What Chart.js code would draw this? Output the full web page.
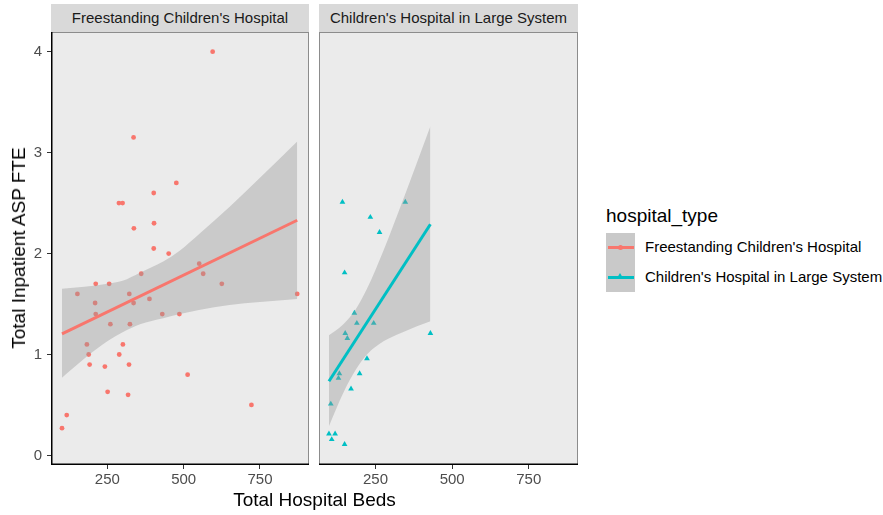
<!DOCTYPE html>
<html>
<head>
<meta charset="utf-8">
<script src="https://cdn.jsdelivr.net/npm/chart.js@4.4.1/dist/chart.umd.min.js"></script>
<style>
  body { margin: 0; background: #fff; font-family: 'Liberation Sans', Arial, sans-serif; }
  #wrap { position: relative; width: 883px; height: 515px; overflow: hidden; }
  canvas { position: absolute; }
  .strip { position: absolute; top: 4px; height: 28px; background: #d9d9d9; color: #1a1a1a;
           font-size: 15px; line-height: 28px; text-align: center; white-space: nowrap; }
  .title { position: absolute; color: #000; font-size: 19px; white-space: nowrap; line-height: 22px; }
  .lg-text { position: absolute; left: 645px; font-size: 15px; color: #000; white-space: nowrap; line-height: 18px; }
  .lg-line { position: absolute; left: 608px; width: 26px; height: 3px; }
</style>
</head>
<body>
<div id="wrap">
  <div class="strip" style="left:51px;width:258px;">Freestanding Children's Hospital</div>
  <div class="strip" style="left:319px;width:259px;">Children's Hospital in Large System</div>

  <canvas id="free-chart" width="312" height="460" style="left:0;top:32px;"></canvas>
  <canvas id="sys-chart" width="265" height="460" style="left:316px;top:32px;"></canvas>

  <div class="title" style="left:0;width:629px;text-align:center;top:489px;">Total Hospital Beds</div>
  <div class="title" style="left:19px;top:248px;transform:translate(-50%,-50%) rotate(-90deg);">Total Inpatient ASP FTE</div>

  <!-- legende -->
  <div class="title" style="left:606px;top:205px;">hospital_type</div>
  <div style="position:absolute;left:606px;top:233px;width:29px;height:59px;background:#c9c9c9;"></div>
  <div class="lg-line" style="top:246px;background:#F8766D;"></div>
  <div style="position:absolute;left:618px;top:245px;width:5px;height:5px;border-radius:50%;background:#F8766D;"></div>
  <div class="lg-line" style="top:276px;background:#00BFC4;"></div>
  <div style="position:absolute;left:617px;top:273px;width:0;height:0;border-left:3px solid transparent;border-right:3px solid transparent;border-bottom:5px solid #00BFC4;"></div>
  <div class="lg-text" style="top:238px;">Freestanding Children's Hospital</div>
  <div class="lg-text" style="top:268px;">Children's Hospital in Large System</div>
</div>

<script>
// --- Data: Freestanding Children's Hospital ---
const freeBeds = [595, 336, 476, 402, 288, 300, 337, 403, 402, 451, 551, 564, 361, 212, 256, 625, 152, 322, 872, 210,
                  336, 388, 212, 430, 486, 260, 324, 183, 301, 189, 289, 192, 321, 242, 513, 251, 318, 722, 117, 101.5];
const freeFte  = [4.00, 3.15, 2.70, 2.60, 2.50, 2.50, 2.25, 2.30, 2.05, 2.00, 1.90, 1.80, 1.80, 1.70, 1.70, 1.70, 1.60, 1.60, 1.60, 1.51,
                  1.51, 1.55, 1.40, 1.40, 1.40, 1.30, 1.30, 1.10, 1.10, 1.00, 1.00, 0.90, 0.90, 0.88, 0.80, 0.63, 0.60, 0.50, 0.40, 0.27];
const freeFitBeds = [101.5, 872];
const freeFitFte  = [1.205, 2.33];
const freeBandBeds  = [101.5, 175, 250, 300, 357, 433, 488, 550, 650, 750, 872];
const freeBandUpper = [1.65, 1.67, 1.70, 1.73, 1.81, 1.92, 2.03, 2.19, 2.46, 2.75, 3.11];
const freeBandLower = [0.77, 0.96, 1.13, 1.22, 1.30, 1.36, 1.40, 1.44, 1.49, 1.52, 1.55];

// --- Data: Children's Hospital in Large System ---
const sysBeds = [142, 347, 233, 263, 149, 181, 189, 244, 151, 158, 429, 222, 132, 129, 198, 170, 104, 98, 118, 107, 149];
const sysFte  = [2.51, 2.51, 2.36, 2.21, 1.81, 1.41, 1.31, 1.31, 1.21, 1.16, 1.21, 0.96, 0.81, 0.765, 0.81, 0.66, 0.51, 0.214, 0.214, 0.158, 0.109];
const sysFitBeds = [98, 429];
const sysFitFte  = [0.735, 2.29];
const sysBandBeds  = [98, 145, 186, 222, 276, 331, 385, 429];
const sysBandUpper = [1.19, 1.30, 1.45, 1.65, 2.03, 2.46, 2.90, 3.26];
const sysBandLower = [0.29, 0.62, 0.85, 1.00, 1.13, 1.21, 1.28, 1.33];

// --- Skala ---
const xTicks = [250, 500, 750];
const yTicks = [0, 1, 2, 3, 4];
const X_MIN = 65.5, X_MAX = 910.6;
const Y_MIN = -0.095, Y_MAX = 4.195;

Chart.defaults.font.family = "'Liberation Sans', Arial, sans-serif";
Chart.defaults.color = '#4d4d4d';

const toPts = (xs, ys) => xs.map((x, i) => ({ x: x, y: ys[i] }));

const panelPlugin = {
    id: 'panel',
    beforeDraw(chart) {
        const { ctx, chartArea: a } = chart;
        ctx.save();
        ctx.fillStyle = '#ebebeb';
        ctx.fillRect(a.left, a.top, a.right - a.left, a.bottom - a.top);
        ctx.restore();
    },
    afterDraw(chart, args, opts) {
        const { ctx, chartArea: a } = chart;
        ctx.save();
        ctx.strokeStyle = '#8c8c8c';
        ctx.lineWidth = 1;
        ctx.strokeRect(a.left + 0.5, a.top + 0.5, a.right - a.left - 1, a.bottom - a.top - 1);
        ctx.strokeStyle = '#000';
        ctx.lineWidth = 1.5;
        ctx.beginPath();
        if (opts.leftAxis) {
            ctx.moveTo(a.left + 0.75, a.top);
            ctx.lineTo(a.left + 0.75, a.bottom);
        }
        ctx.moveTo(a.left, a.bottom - 0.75);
        ctx.lineTo(a.right, a.bottom - 0.75);
        ctx.stroke();
        ctx.restore();
    }
};

function makeChart(id, cfg) {
    const ctx = document.getElementById(id).getContext('2d');
    return new Chart(ctx, {
        type: 'scatter',
        data: {
            datasets: [
                { data: toPts(cfg.beds, cfg.fte), backgroundColor: cfg.color, borderWidth: 0,
                  pointStyle: cfg.shape, pointRadius: cfg.radius, order: 3 },
                { data: toPts(cfg.bandBeds, cfg.bandUpper), showLine: true, pointRadius: 0, borderWidth: 0,
                  cubicInterpolationMode: 'monotone', fill: '+1', backgroundColor: 'rgba(153,153,153,0.4)', order: 2 },
                { data: toPts(cfg.bandBeds, cfg.bandLower), showLine: true, pointRadius: 0, borderWidth: 0,
                  cubicInterpolationMode: 'monotone', fill: false, order: 2 },
                { data: toPts(cfg.fitBeds, cfg.fitFte), showLine: true, pointRadius: 0, borderWidth: 3,
                  borderColor: cfg.color, borderCapStyle: 'butt', fill: false, order: 1 }
            ]
        },
        options: {
            responsive: false,
            animation: false,
            devicePixelRatio: 1,
            layout: { autoPadding: false, padding: cfg.padding },
            plugins: { legend: { display: false }, tooltip: { enabled: false }, panel: { leftAxis: cfg.leftAxis } },
            scales: {
                x: {
                    type: 'linear', min: X_MIN, max: X_MAX,
                    afterBuildTicks: s => { s.ticks = xTicks.map(v => ({ value: v })); },
                    afterFit: s => { s.height = 27; s.paddingLeft = 0; s.paddingRight = 0; },
                    grid: { drawOnChartArea: false, drawTicks: true, tickLength: 4, color: '#333', lineWidth: 1 },
                    border: { display: false },
                    ticks: { font: { size: 15 }, color: '#4d4d4d', padding: 2, maxRotation: 0 }
                },
                y: {
                    type: 'linear', min: Y_MIN, max: Y_MAX, display: cfg.leftAxis,
                    afterBuildTicks: s => { s.ticks = yTicks.map(v => ({ value: v })); },
                    afterFit: s => { if (cfg.leftAxis) s.width = 51; s.paddingTop = 0; s.paddingBottom = 0; },
                    grid: { drawOnChartArea: false, drawTicks: true, tickLength: 4, color: '#333', lineWidth: 1 },
                    border: { display: false },
                    ticks: { font: { size: 15 }, color: '#4d4d4d', padding: 5 }
                }
            }
        },
        plugins: [panelPlugin]
    });
}

makeChart('free-chart', {
    beds: freeBeds, fte: freeFte, fitBeds: freeFitBeds, fitFte: freeFitFte,
    bandBeds: freeBandBeds, bandUpper: freeBandUpper, bandLower: freeBandLower,
    color: '#F8766D', shape: 'circle', radius: 2.4, leftAxis: true,
    padding: { left: 0, right: 3, top: 0, bottom: 0 }
});
makeChart('sys-chart', {
    beds: sysBeds, fte: sysFte, fitBeds: sysFitBeds, fitFte: sysFitFte,
    bandBeds: sysBandBeds, bandUpper: sysBandUpper, bandLower: sysBandLower,
    color: '#00BFC4', shape: 'triangle', radius: 3.3, leftAxis: false,
    padding: { left: 3, right: 3, top: 0, bottom: 0 }
});
</script>
</body>
</html>
